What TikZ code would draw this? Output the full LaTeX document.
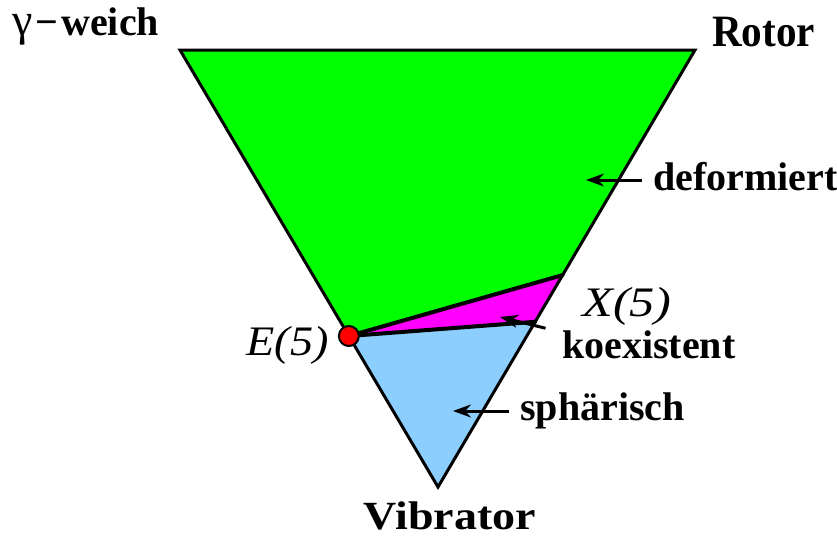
\documentclass[tikz,border=0pt]{standalone}
\usepackage{fontspec}
\setmainfont{Liberation Serif}
\usetikzlibrary{arrows.meta, calc}
\definecolor{deform}{HTML}{00FF00}
\definecolor{koex}{HTML}{FF00FF}
\definecolor{spher}{HTML}{8CCFFF}

\begin{document}
\begin{tikzpicture}[x=1pt, y=-1pt,
  lbl/.style={font=\fontsize{40}{46}\selectfont\bfseries, inner sep=0pt, anchor=base west},
  sym/.style={font=\fontsize{42}{46}\selectfont\itshape, inner sep=0pt, anchor=base west},
  ptr/.style={-{Stealth[length=18pt, width=13pt]}, line width=3pt},
  rim/.style={line width=3pt, line join=miter},
  cut/.style={line width=4pt, line cap=round},
  dot/.style={circle, draw=black, line width=2pt, fill=red, minimum size=20pt, inner sep=0pt}
]
  \useasboundingbox (0,0) rectangle (837,536);

  % corners of the triangle
  \coordinate (gw) at (180,50);
  \coordinate (ro) at (695,50);
  \coordinate (vi) at (438,487);
  \coordinate (e5) at ($(gw)!0.6545!(vi)$);
  \coordinate (x5) at ($(ro)!0.515!(vi)$);
  \coordinate (x5low) at ($(ro)!0.622!(vi)$);

  % regions
  \fill[deform] (gw) -- (ro) -- (x5) -- (e5) -- cycle;
  \fill[koex] (e5) -- (x5) -- (x5low) -- cycle;
  \fill[spher] (e5) -- (x5low) -- (vi) -- cycle;
  \draw[rim] (gw) -- (ro) -- (vi) -- cycle;
  \draw[cut] (e5) -- (x5);
  \draw[cut] (e5) -- (x5low);
  \node[dot] (e5dot) at (e5) {};

  % labels
  \node[lbl] (weich) at (12,35) {{\mdseries\fontsize{46}{46}\selectfont γ}\kern3pt−\kern3pt weich};
  \node[lbl] (rotor) at (712,46) {\scalebox{1.03}[1.12]{Rotor}};
  \node[lbl, anchor=base] (vibr) at (450,529) {\scalebox{1.15}[1]{Vibrator}};
  \node[lbl] (def) at (653,190) {deformiert};
  \node[lbl] (koe) at (562,358) {koexistent};
  \node[lbl] (sph) at (520,420) {sphärisch};
  \node[sym] (x5lbl) at (582,316) {\scalebox{1.2}[1]{X(5)}};
  \node[sym, anchor=base east] (e5lbl) at (329,355) {\scalebox{1.1}[1]{E(5)}};

  % pointers
  \coordinate (deftip) at (586,180);
  \coordinate (koetip) at (500,317);
  \coordinate (sphtip) at (453,411);
  \draw[ptr, shorten <=11pt] (def.west |- deftip) -- (deftip);
  \draw[ptr, shorten <=17pt] ($(koe.west)+(0,-12)$) -- (koetip);
  \draw[ptr, shorten <=11pt] (sph.west |- sphtip) -- (sphtip);
\end{tikzpicture}
\end{document}
